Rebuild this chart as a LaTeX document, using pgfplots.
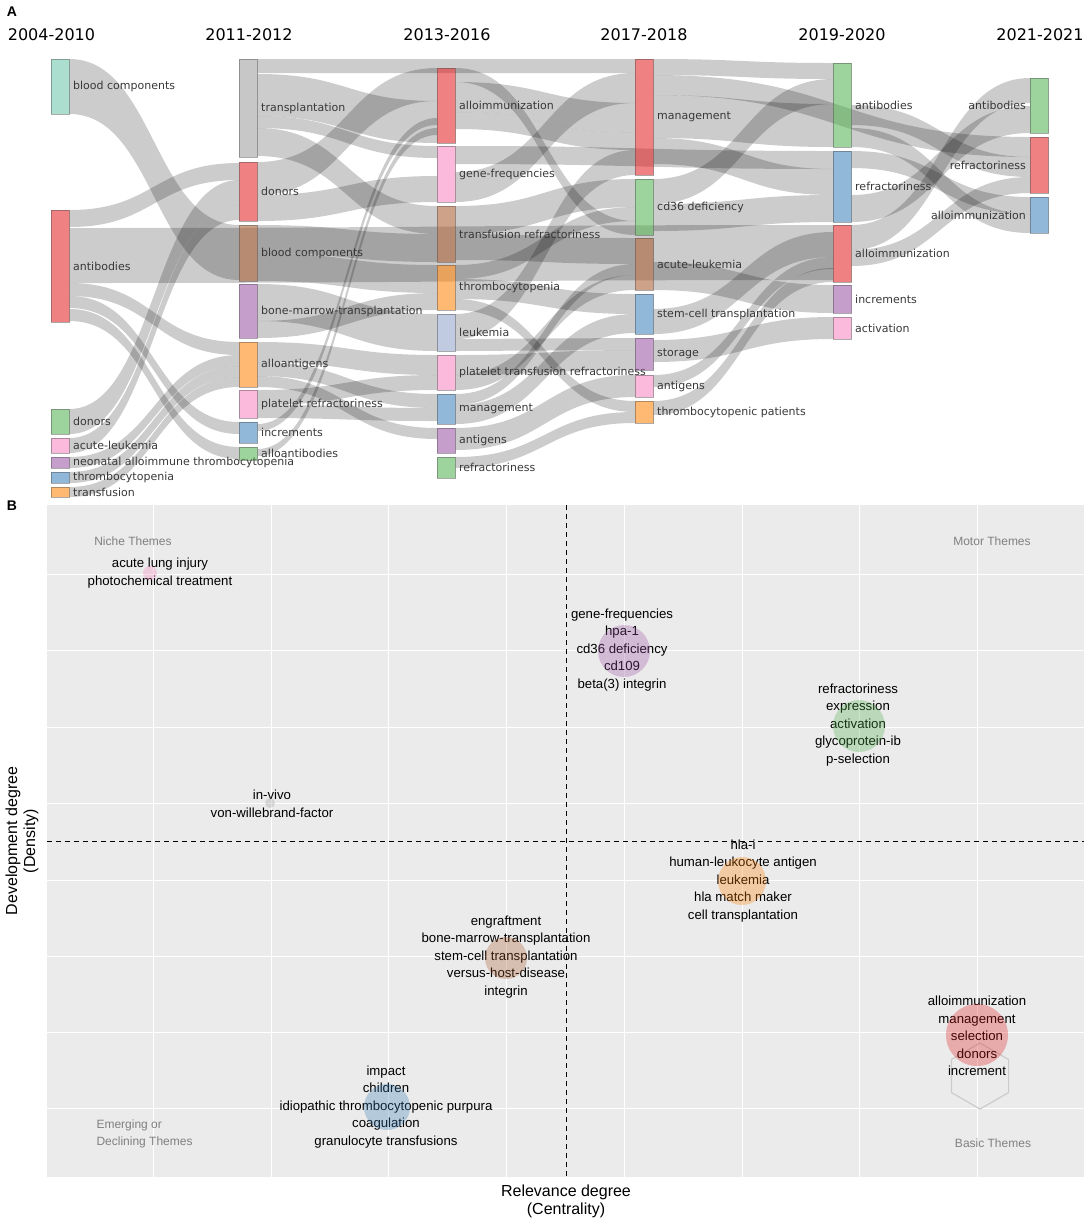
\documentclass[border=0pt]{standalone}
\usepackage{pgfplots}
\pgfplotsset{compat=1.18}
\usepackage{fontspec}
\setmainfont{DejaVu Sans}
\newfontfamily\lib{Liberation Sans}

\definecolor{cred}{HTML}{E41A1C}
\definecolor{cblue}{HTML}{377EB8}
\definecolor{cgreen}{HTML}{4DAF4A}
\definecolor{cpurple}{HTML}{984EA3}
\definecolor{corange}{HTML}{FF7F00}
\definecolor{cbrown}{HTML}{A65628}
\definecolor{cpink}{HTML}{F781BF}
\definecolor{cgray}{HTML}{999999}
\definecolor{cteal}{HTML}{66C2A5}
\definecolor{clav}{HTML}{8DA0CB}
\definecolor{bggray}{HTML}{EBEBEB}
\definecolor{lblc}{HTML}{383838}

% band between two columns: x0, top y at source, x1, top y at target, width
\newcommand\flow[5]{%
  \fill[black, fill opacity=0.2] (axis cs:#1,#2)
    .. controls (axis cs:{(#1+#3)/2},#2) and (axis cs:{(#1+#3)/2},#4) .. (axis cs:#3,#4)
    -- (axis cs:#3,{#4+#5})
    .. controls (axis cs:{(#1+#3)/2},{#4+#5}) and (axis cs:{(#1+#3)/2},{#2+#5}) .. (axis cs:#1,{#2+#5})
    -- cycle;}

% node box: x left, y top, y bottom, colour, label
\newcommand\snode[5]{%
  \pgfmathsetmacro\xr{#1+18.5}%
  \addplot[fill=#4, fill opacity=0.55, draw=black!70, draw opacity=0.45, line width=1pt]
    coordinates {(#1,#2) (\xr,#2) (\xr,#3) (#1,#3) (#1,#2)};
  \node[anchor=west, inner sep=0pt, font=\fontsize{11}{12}\selectfont, text=lblc]
    at (axis cs:{#1+22},{(#2+#3)/2}) {#5};}
\newcommand\snodeL[5]{%
  \pgfmathsetmacro\xr{#1+18.5}%
  \addplot[fill=#4, fill opacity=0.55, draw=black!70, draw opacity=0.45, line width=1pt]
    coordinates {(#1,#2) (\xr,#2) (\xr,#3) (#1,#3) (#1,#2)};
  \node[anchor=east, inner sep=0pt, font=\fontsize{11}{12}\selectfont, text=lblc]
    at (axis cs:{#1-4},{(#2+#3)/2}) {#5};}

\newcommand\bubble[4]{% x, y, radius, colour
  \addplot[only marks, mark=*, mark size=#3pt, draw=none,
    mark options={draw=none, draw opacity=0, fill=#4, fill opacity=0.3}]
    coordinates {(#1,#2)};}

\begin{document}
\begin{tikzpicture}

%% ---------------- panel A: thematic evolution ----------------
\begin{axis}[
    at={(0pt,0pt)}, anchor=north west,
    scale only axis, width=1084pt, height=500pt,
    xmin=0, xmax=1084, ymin=0, ymax=500, y dir=reverse,
    hide axis, clip=false,
]
\node[font=\lib\bfseries\fontsize{14}{16}\selectfont] at (axis cs:12,12) {A};
\begin{scope}[every node/.style={font=\fontsize{16}{18}\selectfont, text=black}]
\node at (axis cs:51.5,35) {2004-2010};
\node at (axis cs:249,35) {2011-2012};
\node at (axis cs:447,35) {2013-2016};
\node at (axis cs:644,35) {2017-2018};
\node at (axis cs:842,35) {2019-2020};
\node at (axis cs:1040,35) {2021-2021};
\end{scope}

% flows 2004-2010 -> 2011-2012
\flow{69.5}{59}{239}{225}{55}
\flow{69.5}{210}{239}{163}{17}
\flow{69.5}{228}{833}{225}{55}
\flow{69.5}{283}{239}{342}{13}
\flow{69.5}{296}{239}{422}{12}
\flow{69.5}{309}{239}{447}{12}
\flow{69.5}{409}{239}{180}{25}
\flow{69.5}{438}{239}{205}{15}
\flow{69.5}{457}{239}{355}{11}
\flow{69.5}{472}{239}{366}{11}
\flow{69.5}{487}{239}{377}{10}
% flows 2011-2012 -> 2013-2016
\flow{257.5}{59}{635}{59}{14}
\flow{257.5}{74}{437}{101}{42}
\flow{257.5}{162}{437}{68}{33}
\flow{257.5}{116}{437}{146}{12}
\flow{257.5}{128}{437}{206}{28}
\flow{257.5}{195}{437}{176}{26}
\flow{257.5}{225}{437}{234}{28}
\flow{257.5}{253}{437}{265}{28}
\flow{257.5}{284}{437}{314}{37}
\flow{257.5}{321}{437}{293}{17}
\flow{257.5}{342}{437}{355}{20}
\flow{257.5}{362}{437}{394}{14}
\flow{257.5}{376}{437}{428}{11}
\flow{257.5}{390}{437}{375}{15}
\flow{257.5}{405}{437}{408}{13}
\flow{257.5}{424}{437}{118}{7}
\flow{257.5}{449}{437}{128}{7}
% flows 2013-2016 -> 2017-2018
\flow{455.5}{68}{635}{221}{14}
\flow{455.5}{82}{635}{103}{30}
\flow{455.5}{112}{635}{133}{17}
\flow{455.5}{146}{833}{151}{18}
\flow{455.5}{172}{635}{73}{30}
\flow{455.5}{206}{635}{179}{28}
\flow{455.5}{234}{635}{238}{26}
\flow{455.5}{314}{635}{150}{25}
\flow{455.5}{265}{635}{207}{14}
\flow{455.5}{279}{635}{294}{20}
\flow{455.5}{299}{635}{401}{11}
\flow{455.5}{339}{635}{338}{12}
\flow{455.5}{355}{635}{350}{20}
\flow{455.5}{375}{635}{275}{15}
\flow{455.5}{394}{635}{264}{11}
\flow{455.5}{405}{635}{314}{19}
\flow{455.5}{428}{635}{375}{22}
\flow{455.5}{457}{635}{412}{11}
% flows 2017-2018 -> 2019-2020
\flow{653.5}{59}{833}{63}{16}
\flow{653.5}{75}{1030}{137}{20}
\flow{653.5}{95}{833}{104}{43}
\flow{653.5}{138}{833}{169}{26}
\flow{653.5}{179}{833}{79}{25}
\flow{653.5}{204}{833}{195}{27}
\flow{653.5}{262}{833}{285}{28}
\flow{653.5}{309}{833}{232}{25}
\flow{653.5}{340}{833}{317}{22}
\flow{653.5}{375}{833}{257}{12}
\flow{653.5}{401}{833}{268}{14}
% flows 2019-2020 -> 2021-2021
\flow{851.5}{225}{1030}{78}{25}
\flow{851.5}{195}{1030}{106}{27}
\flow{851.5}{105}{1030}{157}{20}
\flow{851.5}{250}{1030}{177}{16}
\flow{851.5}{151}{1030}{197}{17}
\flow{851.5}{128}{1030}{214}{19}

% nodes
\snode{51}{59}{114}{cteal}{blood components}
\snode{51}{210}{322}{cred}{antibodies}
\snode{51}{409}{434}{cgreen}{donors}
\snode{51}{438}{453}{cpink}{acute-leukemia}
\snode{51}{457}{468}{cpurple}{neonatal alloimmune thrombocytopenia}
\snode{51}{472}{483}{cblue}{thrombocytopenia}
\snode{51}{487}{497}{corange}{transfusion}

\snode{239}{59}{157}{cgray}{transplantation}
\snode{239}{162}{221}{cred}{donors}
\snode{239}{225}{281}{cbrown}{blood components}
\snode{239}{284}{338}{cpurple}{bone-marrow-transplantation}
\snode{239}{342}{387}{corange}{alloantigens}
\snode{239}{390}{418}{cpink}{platelet refractoriness}
\snode{239}{422}{443}{cblue}{increments}
\snode{239}{447}{460}{cgreen}{alloantibodies}

\snode{437}{68}{143}{cred}{alloimmunization}
\snode{437}{146}{202}{cpink}{gene-frequencies}
\snode{437}{206}{262}{cbrown}{transfusion refractoriness}
\snode{437}{265}{310}{corange}{thrombocytopenia}
\snode{437}{314}{351}{clav}{leukemia}
\snode{437}{355}{390}{cpink}{platelet transfusion refractoriness}
\snode{437}{394}{424}{cblue}{management}
\snode{437}{428}{453}{cpurple}{antigens}
\snode{437}{457}{478}{cgreen}{refractoriness}

\snode{635}{59}{175}{cred}{management}
\snode{635}{179}{235}{cgreen}{cd36 deficiency}
\snode{635}{238}{290}{cbrown}{acute-leukemia}
\snode{635}{294}{334}{cblue}{stem-cell transplantation}
\snode{635}{338}{370}{cpurple}{storage}
\snode{635}{375}{397}{cpink}{antigens}
\snode{635}{401}{423}{corange}{thrombocytopenic patients}

\snode{833}{63}{147}{cgreen}{antibodies}
\snode{833}{151}{222}{cblue}{refractoriness}
\snode{833}{225}{282}{cred}{alloimmunization}
\snode{833}{285}{313}{cpurple}{increments}
\snode{833}{317}{339}{cpink}{activation}

\snodeL{1030}{78}{133}{cgreen}{antibodies}
\snodeL{1030}{137}{193}{cred}{refractoriness}
\snodeL{1030}{197}{233}{cblue}{alloimmunization}

\node[font=\lib\bfseries\fontsize{14}{16}\selectfont] at (axis cs:12,506) {B};
\end{axis}

%% ---------------- panel B: thematic map ----------------
\begin{axis}[
    at={(47pt,-505pt)}, anchor=north west,
    scale only axis, width=1037pt, height=672pt,
    xmin=47, xmax=1084, ymin=505, ymax=1177, y dir=reverse,
    axis background/.style={fill=bggray},
    axis line style={draw=none},
    major tick length=0pt,
    xtick={153.5,271.2,388.9,506.6,624.3,742,859.7,977.4},
    ytick={574,650.5,727,803.5,880,956,1032,1108.5},
    xticklabels={}, yticklabels={},
    grid=major, major grid style={white, line width=1pt},
    clip=false,
]
\addplot[black, line width=0.9pt, dash pattern=on 5pt off 4pt] coordinates {(566,505) (566,1177)};
\addplot[black, line width=0.9pt, dash pattern=on 5pt off 4pt] coordinates {(47,841) (1084,841)};

\bubble{150}{573}{7}{cpink}
\bubble{624}{651}{26}{cpurple}
\bubble{859}{726}{26}{cgreen}
\bubble{270}{803}{5}{cgray}
\bubble{742}{881}{24}{corange}
\bubble{506}{958}{21}{cbrown}
\bubble{977}{1035}{31}{cred}
\bubble{387}{1107}{23}{cblue}

% bibliometrix watermark
\addplot[gray!40, line width=1.2pt] coordinates {(980,1043) (1008.6,1059.5) (1008.6,1092.5) (980,1109) (951.4,1092.5) (951.4,1059.5) (980,1043)};

\begin{scope}[every node/.style={align=center, font=\lib\fontsize{13.2}{17.5}\selectfont}]
\node at (axis cs:160,573) {acute lung injury\\photochemical treatment};
\node at (axis cs:622,650) {gene-frequencies\\hpa-1\\cd36 deficiency\\cd109\\beta(3) integrin};
\node at (axis cs:858,725) {refractoriness\\expression\\activation\\glycoprotein-ib\\p-selection};
\node at (axis cs:272,804) {in-vivo\\von-willebrand-factor};
\node at (axis cs:743,881) {hla-i\\human-leukocyte antigen\\leukemia\\hla match maker\\cell transplantation};
\node at (axis cs:506,957) {engraftment\\bone-marrow-transplantation\\stem-cell transplantation\\versus-host-disease\\integrin};
\node at (axis cs:977,1036) {alloimmunization\\management\\selection\\donors\\increment};
\node at (axis cs:386,1107) {impact\\children\\idiopathic thrombocytopenic purpura\\coagulation\\granulocyte transfusions};
\end{scope}

\begin{scope}[every node/.style={font=\lib\fontsize{12}{17.5}\selectfont, text=black!50}]
\node at (axis cs:133,541) {Niche Themes};
\node at (axis cs:992,541) {Motor Themes};
\node[anchor=west, align=left] at (axis cs:93,1134) {Emerging or\\Declining Themes};
\node at (axis cs:993,1143) {Basic Themes};
\end{scope}

\node[align=center, font=\lib\fontsize{16}{18}\selectfont] at (axis cs:566,1201) {Relevance degree\\(Centrality)};
\node[align=center, rotate=90, font=\lib\fontsize{16}{18}\selectfont] at (axis cs:22,841) {Development degree\\(Density)};
\end{axis}

\pgfresetboundingbox
\path[use as bounding box] (0pt,0pt) rectangle (1084pt,-1219pt);
\end{tikzpicture}
\end{document}
